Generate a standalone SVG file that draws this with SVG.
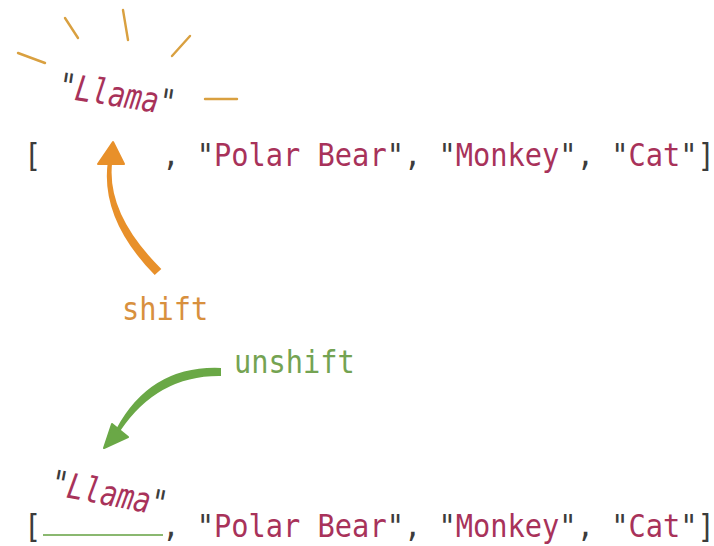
<svg xmlns="http://www.w3.org/2000/svg" width="714" height="546" viewBox="0 0 714 546">
<style>
.mono{font-family:"DejaVu Sans Mono","Liberation Mono",monospace;font-size:32px;fill:#3c3c3c}
.big{font-size:35px}
.str{fill:#a8325a}
.it{font-style:italic}
.ray{stroke:#d9a040;stroke-width:2.4;stroke-linecap:round;fill:none}
.shiftc{fill:#e8902a}
.unshiftc{fill:#6aa846}
</style>
<rect width="714" height="546" fill="#ffffff"/>
<g id="rays">
<line class="ray" x1="18" y1="53" x2="45" y2="63"/>
<line class="ray" x1="65" y1="18" x2="78" y2="38"/>
<line class="ray" x1="123" y1="10" x2="128" y2="40"/>
<line class="ray" x1="190" y1="36" x2="172" y2="56"/>
<line class="ray" x1="205" y1="99" x2="237" y2="99"/>
</g>
<g id="llama-top">
<g transform="translate(57,97) rotate(9) scale(0.8,1)">
<text class="mono big" x="0" y="0">"<tspan class="str it">Llama</tspan>"</text>
</g>
</g>
<g id="array-top">
<g transform="translate(24,166) scale(0.897,1)">
<text class="mono" x="0" y="0" xml:space="preserve">[       , "<tspan class="str">Polar Bear</tspan>", "<tspan class="str">Monkey</tspan>", "<tspan class="str">Cat</tspan>"]</text>
</g>
</g>
<g id="shift-label">
<g transform="translate(122,320) scale(0.897,1)">
<text class="mono" x="0" y="0" style="fill:#d8903e">shift</text>
</g>
</g>
<g id="unshift-label">
<g transform="translate(234,373) scale(0.897,1)">
<text class="mono" x="0" y="0" style="fill:#74a352">unshift</text>
</g>
</g>
<g id="llama-bottom">
<g transform="translate(49,494) rotate(11) scale(0.8,1)">
<text class="mono big" x="0" y="0">"<tspan class="str it">Llama</tspan>"</text>
</g>
</g>
<g id="array-bottom">
<line x1="43" y1="535" x2="163" y2="535" stroke="#8ab870" stroke-width="2.2"/>
<g transform="translate(24,537) scale(0.897,1)">
<text class="mono" x="0" y="0" xml:space="preserve">[       , "<tspan class="str">Polar Bear</tspan>", "<tspan class="str">Monkey</tspan>", "<tspan class="str">Cat</tspan>"]</text>
</g>
</g>
<g id="connectors">
<g id="shift-arrow">
<path class="shiftc" d="M161.3,268.9 Q106,214 112.2,162 L107.8,162 Q100,219 154.7,275.1 Z"/>
<polygon class="shiftc" points="113,142 124,164 98,164" stroke="#e8902a" stroke-width="2" stroke-linejoin="round"/>
</g>
<g id="unshift-arrow">
<path class="unshiftc" d="M221,368 Q151,365 116.5,428.5 L120.5,430.5 Q158,375 221,376 Z"/>
<polygon class="unshiftc" points="104,448 112,424 128,437" stroke="#6aa846" stroke-width="2" stroke-linejoin="round"/>
</g>
</g>
</svg>
